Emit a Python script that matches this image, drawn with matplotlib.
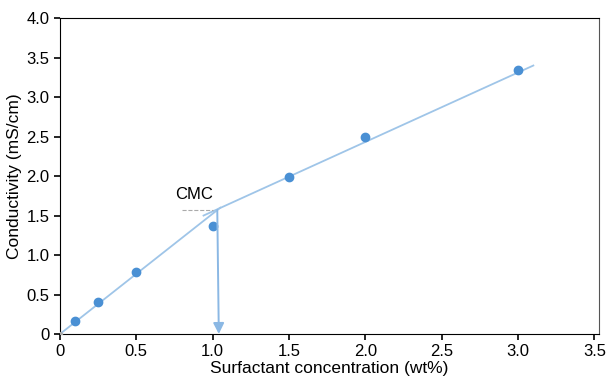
import numpy as np
import matplotlib.pyplot as plt

plt.rcParams['font.family'] = ['Liberation Sans', 'DejaVu Sans']

# measured points
conc = [0.1, 0.25, 0.5, 1.0, 1.5, 2.0, 3.0]
cond = [0.16, 0.41, 0.78, 1.37, 1.99, 2.49, 3.34]

# fitted lines
fit1_x = [0.0, 1.05]
fit1_y = [0.0, 1.60]
fit2_x = [0.94, 3.10]
fit2_y = [1.50, 3.40]

cmc_x = 1.03
cmc_y = 1.57

xticks = [0, 0.5, 1.0, 1.5, 2.0, 2.5, 3.0, 3.5]
xlabels = ['0', '0.5', '1.0', '1.5', '2.0', '2.5', '3.0', '3.5']
yticks = [0, 0.5, 1.0, 1.5, 2.0, 2.5, 3.0, 3.5, 4.0]
ylabels = ['0', '0.5', '1.0', '1.5', '2.0', '2.5', '3.0', '3.5', '4.0']

line_col = '#9fc5e8'
arrow_col = '#8bb8e4'
pt_col = '#4a90d4'

fig = plt.figure(figsize=(6.08, 3.78), dpi=100)
ax = fig.add_axes([0.0987, 0.1164, 0.8865, 0.8356])

ax.plot(fit1_x, fit1_y, color=line_col, lw=1.3)
ax.plot(fit2_x, fit2_y, color=line_col, lw=1.3)
ax.scatter(conc, cond, s=36, color=pt_col, zorder=3)
ax.scatter([0], [0], s=8, color='#aaaaaa', zorder=3)

# CMC marker
ax.plot([0.8, 1.0], [cmc_y, cmc_y], color='#aaaaaa', lw=0.8, ls='--')
ax.text(0.88, 1.67, 'CMC', fontsize=12, ha='center', va='bottom')
ax.annotate('', xy=(cmc_x + 0.01, 0.0), xytext=(cmc_x, cmc_y),
            arrowprops=dict(arrowstyle='-|>', color=arrow_col, lw=1.4,
                            mutation_scale=16, shrinkA=0, shrinkB=0))

ax.set_xlim(0, 3.53)
ax.set_ylim(0, 4.0)
ax.set_xticks(xticks)
ax.set_xticklabels(xlabels)
ax.set_yticks(yticks)
ax.set_yticklabels(ylabels)
ax.tick_params(labelsize=12, direction='out', length=4, width=1.2)
ax.spines['right'].set_color('#555555')
ax.set_xlabel('Surfactant concentration (wt%)', fontsize=12.5, labelpad=1)
ax.set_ylabel('Conductivity (mS/cm)', fontsize=12.5, labelpad=3)

fig.savefig('out.png', dpi=100)
